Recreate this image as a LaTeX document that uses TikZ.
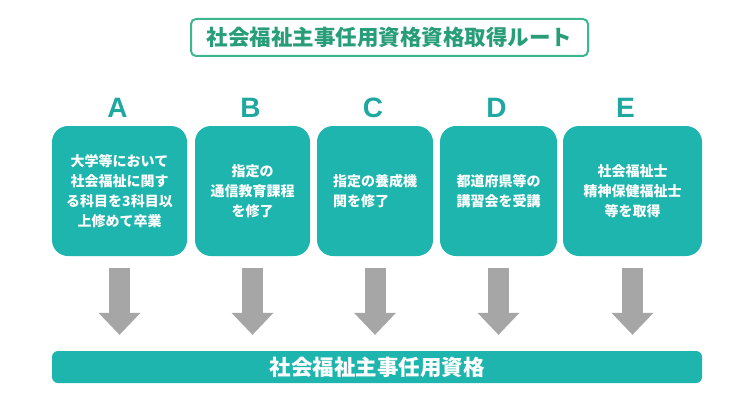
\documentclass[tikz,border=0pt]{standalone}
\usepackage{fontspec}
\setsansfont{Liberation Sans}
\newfontfamily\jpfont{Noto Sans CJK JP}
\usetikzlibrary{positioning,arrows.meta}

\definecolor{routeteal}{RGB}{29,181,173}
\definecolor{letterteal}{RGB}{30,168,160}
\definecolor{titlegreen}{RGB}{60,182,140}
\definecolor{titletext}{RGB}{40,158,120}
\definecolor{arrowgray}{RGB}{166,166,166}

\tikzset{
    routebox/.style={fill=routeteal, rounded corners=16pt, text=white,
        font=\jpfont\bfseries\fontsize{14}{20}\selectfont, align=center,
        minimum height=130pt, inner sep=0pt},
    letter/.style={text=letterteal, font=\sffamily\bfseries\fontsize{28}{28}\selectfont,
        inner sep=0pt},
    flowarrow/.style={draw=arrowgray, line width=21pt,
        -{Triangle[width=42pt,length=22pt,line width=0pt]}}
}

\begin{document}
\begin{tikzpicture}[x=1pt, y=-1pt]
    \useasboundingbox[fill=white] (0,0) rectangle (754,404);

    % Define nodes
    \node[draw=titlegreen, line width=2pt, rounded corners=5pt, text=titletext,
        font=\jpfont\bfseries\fontsize{21.5}{24}\selectfont,
        minimum width=397pt, minimum height=37pt, inner sep=0pt]
                                    (title)     at (389.5,37.5) {社会福祉主事任用資格資格取得ルート};
    \node[routebox, minimum width=135pt]    (boxA)  at (119.5,191) {大学等において\\社会福祉に関す\\る科目を3科目以\\上修めて卒業};
    \node[routebox, minimum width=115pt]    (boxB)  at (252.5,191) {指定の\\通信教育課程\\を修了};
    \node[routebox, minimum width=116pt, align=left]
                                            (boxC)  at (375,191)   {指定の養成機\\関を修了};
    \node[routebox, minimum width=117pt]    (boxD)  at (498.5,191) {都道府県等の\\講習会を受講};
    \node[routebox, minimum width=139pt]    (boxE)  at (632.5,191) {社会福祉士\\精神保健福祉士\\等を取得};
    \node[letter, above = 8pt of boxA, xshift=-2pt]     (labA)  {A};
    \node[letter, above = 8pt of boxB, xshift=-2pt]     (labB)  {B};
    \node[letter, above = 8pt of boxC, xshift=-2pt]     (labC)  {C};
    \node[letter, above = 8pt of boxD, xshift=-2pt]     (labD)  {D};
    \node[letter, above = 8pt of boxE, xshift=-7pt]     (labE)  {E};
    \node[fill=routeteal, rounded corners=6pt, text=white,
        font=\jpfont\bfseries\fontsize{21.5}{24}\selectfont,
        minimum width=650pt, minimum height=32pt, inner sep=0pt]
                                    (qual)      at (377,367) {社会福祉主事任用資格};

    % Connect nodes
    \draw[flowarrow] ([yshift=-12pt]boxA.south) -- ([yshift=16pt]boxA.south |- qual.north);
    \draw[flowarrow] ([yshift=-12pt]boxB.south) -- ([yshift=16pt]boxB.south |- qual.north);
    \draw[flowarrow] ([yshift=-12pt]boxC.south) -- ([yshift=16pt]boxC.south |- qual.north);
    \draw[flowarrow] ([yshift=-12pt]boxD.south) -- ([yshift=16pt]boxD.south |- qual.north);
    \draw[flowarrow] ([yshift=-12pt]boxE.south) -- ([yshift=16pt]boxE.south |- qual.north);
\end{tikzpicture}
\end{document}
